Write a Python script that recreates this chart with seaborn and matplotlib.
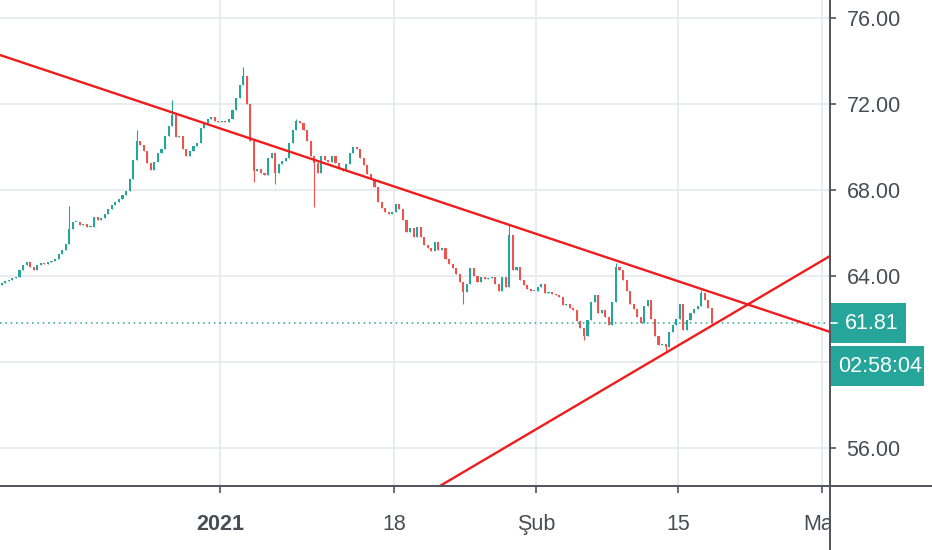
import matplotlib
matplotlib.use("Agg")
import matplotlib.pyplot as plt
from matplotlib.lines import Line2D
from matplotlib.patches import Rectangle
from matplotlib.transforms import IdentityTransform
import numpy as np
import seaborn as sns

# closing prices, one per bar
closes = [
    63.67, 63.75, 63.8, 63.9, 63.95, 64.3, 64.5, 64.65, 64.4, 64.28,
    64.5, 64.6, 64.55, 64.65, 64.7, 64.8, 65.0, 65.2, 65.5, 66.2,
    66.5, 66.5, 66.35, 66.4, 66.3, 66.3, 66.75, 66.6, 66.7, 66.9,
    67.1, 67.3, 67.45, 67.6, 67.75, 67.95, 68.5, 69.4, 70.3, 70.1,
    69.8, 69.26, 68.95, 69.3, 69.7, 69.9, 70.5, 71.0, 71.5, 70.45,
    70.5, 69.9, 69.6, 69.8, 70.05, 70.2, 70.9, 71.1, 71.3, 71.4,
    71.2, 71.15, 71.2, 71.15, 71.3, 71.7, 72.3, 72.9, 73.3, 72.0,
    70.3, 68.9, 69.0, 68.8, 68.7, 69.5, 69.7, 68.8, 69.2, 69.35,
    69.5, 70.2, 70.8, 71.2, 71.1, 70.8, 70.3, 69.6, 69.26, 68.8,
    69.6, 69.4, 69.3, 69.6, 69.25, 69.0, 68.9, 69.2, 69.7, 70.0,
    69.9, 69.5, 69.15, 68.75, 68.5, 68.15, 67.45, 67.15, 66.98, 66.9,
    67.0, 67.35, 67.1, 66.6, 66.05, 66.25, 65.8, 66.3, 65.8, 65.45,
    65.3, 65.15, 65.6, 65.2, 65.3, 64.8, 64.55, 64.35, 64.1, 63.7,
    63.25, 63.65, 64.35, 64.0, 63.7, 63.95, 63.85, 63.9, 63.95, 63.65,
    63.3, 63.95, 63.5, 65.9, 64.3, 64.4, 63.8, 63.6, 63.4, 63.3,
    63.3, 63.5, 63.65, 63.2, 63.25, 63.15, 63.1, 63.0, 62.65, 62.7,
    62.5, 62.4, 61.9, 61.6, 61.2, 61.95, 62.8, 63.1, 62.3, 62.4,
    62.1, 61.7, 62.8, 64.4, 64.3, 63.8, 63.3, 62.7, 62.45, 62.1,
    61.8, 62.6, 62.88, 62.0, 61.2, 60.8, 60.85, 60.7, 61.4, 61.7,
    62.0, 62.7, 61.5, 61.95, 62.3, 62.45, 62.6, 63.2, 62.9, 62.5,
    61.81,
]
first_open = 63.6
# long wicks that stick out beyond the bodies
wick_highs = {19: 67.26, 38: 70.8, 48: 72.2, 68: 73.7, 83: 71.3, 143: 66.37, 173: 64.6, 197: 63.35}
wick_lows = {71: 68.37, 77: 68.3, 88: 67.2, 130: 62.7, 164: 61.0, 187: 60.5}

time_tick_pos = [61.5, 110.5, 150.5, 190.5, 231.0]
time_tick_labels = ["2021", "18", "Şub", "15", "Mar"]
price_ticks = [56, 60, 64, 68, 72, 76]
price_tick_labels = ["56.00", "", "64.00", "68.00", "72.00", "76.00"]

upper_trend_x = [-0.5, 233.3]
upper_trend_y = [74.28, 61.40]
lower_trend_x = [123.4, 233.3]
lower_trend_y = [54.23, 64.93]

last_price = 61.81
countdown = "02:58:04"

UP = "#26a69a"
DOWN = "#ef5350"
TEXT = "#4a4c55"
AXIS = "#50535e"
FS = 15.5

sns.set_theme(style="white")
plt.rcParams["font.family"] = ["Liberation Sans", "DejaVu Sans"]

W, H = 932, 550
fig = plt.figure(figsize=(W / 100, H / 100), dpi=100)
ax = fig.add_axes([0, 64 / H, 830 / W, 486 / H])

closes = np.array(closes)
opens = np.concatenate([[first_open], closes[:-1]])
idx = np.arange(len(closes))
highs = np.maximum(opens, closes)
lows = np.minimum(opens, closes)
for i, v in wick_highs.items():
    highs[i] = v
for i, v in wick_lows.items():
    lows[i] = v
colors = np.where(closes >= opens, UP, DOWN)

ax.vlines(idx, lows, highs, colors=colors, lw=0.8, zorder=3)
body = np.maximum(np.abs(closes - opens), 0.04)
ax.bar(idx, body, bottom=np.minimum(opens, closes), width=0.6, color=colors,
       linewidth=0, zorder=4)

sns.lineplot(x=upper_trend_x, y=upper_trend_y, ax=ax, color="#ee1c1c", lw=1.7, zorder=5)
sns.lineplot(x=lower_trend_x, y=lower_trend_y, ax=ax, color="#ee1c1c", lw=1.7, zorder=5)

ax.axhline(last_price, color=UP, ls=(0, (1, 2.5)), lw=1.1, zorder=2)

ax.set_xlim(-0.5, 233.3)
ax.set_ylim(54.23, 76.84)
ax.set_xticks(time_tick_pos)
ax.set_xticklabels(time_tick_labels)
ax.set_yticks(price_ticks)
ax.set_yticklabels(price_tick_labels)
ax.yaxis.tick_right()
ax.grid(True, color="#e6eaee", lw=1.3)
for s in ax.spines.values():
    s.set_visible(False)
ax.tick_params(axis="y", direction="out", length=4, width=1.2, color=AXIS,
               pad=8, labelsize=FS, labelcolor=TEXT, right=True)
ax.tick_params(axis="x", direction="out", length=5, width=1.2, color=AXIS,
               pad=15, labelsize=FS, labelcolor=TEXT, bottom=True)
ax.get_xticklabels()[0].set_fontweight("bold")

# cover the clipped part of the last month label under the price scale
fig.add_artist(Rectangle((831, 0), 101, 63, transform=IdentityTransform(),
                         facecolor="white", edgecolor="none", zorder=2))

# frame lines of the price scale and time scale
fig.add_artist(Line2D([0, 1], [64 / H, 64 / H], color=AXIS, lw=1.4, zorder=3))
fig.add_artist(Line2D([830 / W, 830 / W], [0, 1], color=AXIS, lw=1.4, zorder=3))

# last price label and bar countdown
y_last = ax.transData.transform((0, last_price))[1]
fig.add_artist(Rectangle((831, y_last - 20), 75, 40, transform=IdentityTransform(),
                         facecolor=UP, edgecolor="none", zorder=4))
fig.add_artist(Line2D([831, 837], [y_last, y_last], transform=IdentityTransform(),
                      color="white", lw=1.2, zorder=5))
fig.text(845, y_last, f"{last_price:.2f}", transform=IdentityTransform(),
         color="white", fontsize=FS, va="center", ha="left", zorder=5)
fig.add_artist(Rectangle((831, y_last - 63), 93, 40, transform=IdentityTransform(),
                         facecolor=UP, edgecolor="none", zorder=4))
fig.text(838, y_last - 43, countdown, transform=IdentityTransform(),
         color="white", fontsize=FS, va="center", ha="left", zorder=5)

fig.savefig("out.png", dpi=100)
